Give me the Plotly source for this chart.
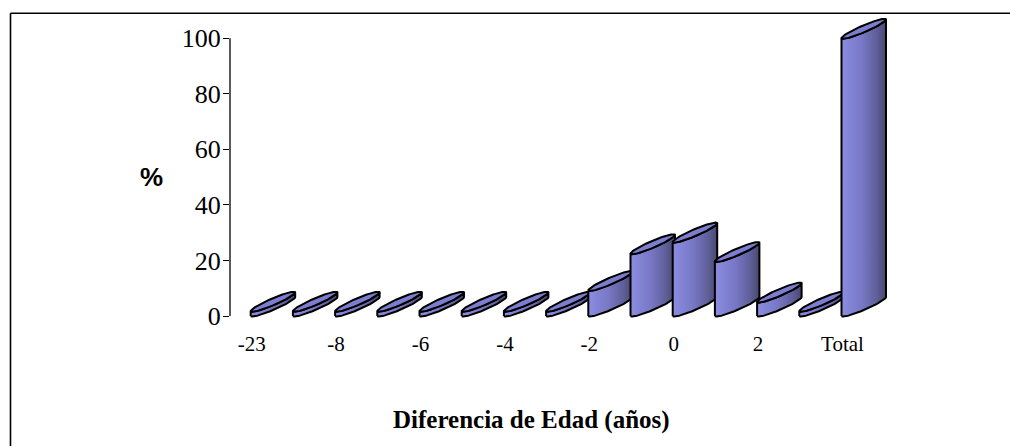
import numpy as np
import plotly.graph_objects as go

# Age-difference categories and the share (%) of cases in each
categories = ["-23", "-9", "-8", "-7", "-6", "-5", "-4", "-3",
              "-2", "-1", "0", "1", "2", "3", "Total"]
percent = [1.7, 1.7, 1.7, 1.7, 1.7, 1.7, 1.7, 1.7,
           9.2, 22.4, 26.6, 19.6, 5.0, 1.7, 100.0]
y_ticks = [0, 20, 40, 60, 80, 100]
labelled = [0, 2, 4, 6, 8, 10, 12, 14]  # every other category is labelled

# Figure geometry (pixels)
FIG_W, FIG_H = 1010, 446
M_L, M_R, M_T, M_B = 230, 10, 5, 120
PLOT_W = FIG_W - M_L - M_R
PLOT_H = FIG_H - M_T - M_B
PX_PER_CAT = 42.2
PX_PER_PCT = 2.777
CAT0_PX = 251.7      # x pixel of the first category
ZERO_PX = 316.0      # y pixel of 0 %

x_range = [(M_L - CAT0_PX) / PX_PER_CAT, (FIG_W - M_R - CAT0_PX) / PX_PER_CAT]
y_range = [(ZERO_PX - (FIG_H - M_B)) / PX_PER_PCT, (ZERO_PX - M_T) / PX_PER_PCT]

# Oblique cylinder footprint (an ellipse), expressed in data units
W = 44.5 / PX_PER_CAT          # width of the footprint along the category axis
D = 19.0 / PX_PER_PCT          # apparent rise of the footprint towards the back
VX, VY = 1.0 / PX_PER_CAT, -3.2 / PX_PER_PCT   # half thickness (front direction)
X_SHIFT = -1.0 / PX_PER_CAT


def footprint(x0, base, t):
    cx, cy = x0 + W / 2, base + D / 2
    return (cx - np.cos(t) * W / 2 + np.sin(t) * VX,
            cy - np.cos(t) * D / 2 + np.sin(t) * VY)


BODY_SCALE = [[0.0, "#8c8ce2"], [0.45, "#7878c6"], [0.8, "#5e5e98"], [1.0, "#48486f"]]
TOP_COLOR = "#7d7dcf"
EDGE = dict(color="black", width=2)

fig = go.Figure()
t_front = np.linspace(0, np.pi, 48)
t_full = np.linspace(0, 2 * np.pi, 96)

for i, val in enumerate(percent):
    x0 = i + X_SHIFT
    bx, by = footprint(x0, 0.0, t_front)
    tx, ty = footprint(x0, val, t_front[::-1])
    fig.add_trace(go.Scatter(
        x=np.concatenate([bx, tx, bx[:1]]),
        y=np.concatenate([by, ty, by[:1]]),
        mode="lines", fill="toself",
        fillgradient=dict(type="horizontal", colorscale=BODY_SCALE),
        line=EDGE, hoverinfo="skip", showlegend=False,
    ))
    ex, ey = footprint(x0, val, t_full)
    fig.add_trace(go.Scatter(
        x=ex, y=ey, mode="lines", fill="toself", fillcolor=TOP_COLOR,
        line=EDGE, hoverinfo="skip", showlegend=False,
    ))


def px_to_paper_x(px):
    return (px - M_L) / PLOT_W


def px_to_paper_y(py):
    return (FIG_H - M_B - py) / PLOT_H


shapes = [
    # value axis line from 0 to 100
    dict(type="line", xref="paper", yref="y", x0=0, x1=0, y0=0, y1=100,
         line=dict(color="black", width=1.3)),
    # chart frame (top and left edges)
    dict(type="line", xref="paper", yref="paper",
         x0=px_to_paper_x(10.5), x1=px_to_paper_x(1015),
         y0=px_to_paper_y(13.3), y1=px_to_paper_y(13.3),
         line=dict(color="black", width=1.6)),
    dict(type="line", xref="paper", yref="paper",
         x0=px_to_paper_x(10.5), x1=px_to_paper_x(10.5),
         y0=px_to_paper_y(13.3), y1=px_to_paper_y(450),
         line=dict(color="black", width=1.6)),
]

annotations = [
    dict(text="<b>%</b>", xref="paper", yref="paper",
         x=px_to_paper_x(151.7), y=px_to_paper_y(176.7),
         showarrow=False, xanchor="center", yanchor="middle",
         font=dict(family="Liberation Sans", size=26, color="black")),
    dict(text="<b>Diferencia de Edad (años)</b>", xref="paper", yref="paper",
         x=px_to_paper_x(531), y=px_to_paper_y(420),
         showarrow=False, xanchor="center", yanchor="middle",
         font=dict(family="Liberation Serif", size=25, color="black")),
]

fig.update_layout(
    width=FIG_W, height=FIG_H,
    margin=dict(l=M_L, r=M_R, t=M_T, b=M_B, pad=0),
    paper_bgcolor="white", plot_bgcolor="white",
    shapes=shapes, annotations=annotations,
    xaxis=dict(
        range=x_range, showgrid=False, zeroline=False, showline=False,
        ticks="", tickmode="array",
        tickvals=labelled, ticktext=[categories[i] for i in labelled],
        tickfont=dict(family="Liberation Serif", size=21, color="black"),
        ticklabelstandoff=3, fixedrange=True,
    ),
    yaxis=dict(
        range=y_range, showgrid=False, zeroline=False, showline=False,
        ticks="outside", ticklen=6, tickwidth=1.3, tickcolor="black",
        tickmode="array", tickvals=y_ticks,
        tickfont=dict(family="Liberation Serif", size=26, color="black"),
        ticklabelstandoff=-3, fixedrange=True,
    ),
)

fig.write_html("out.html")
